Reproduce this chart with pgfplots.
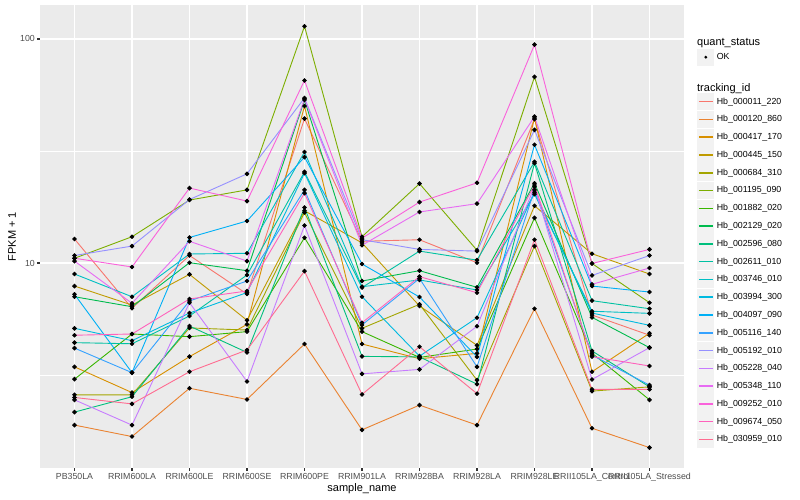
\documentclass[border=0pt]{standalone}
\usepackage{fontspec}
\setmainfont{Liberation Sans}
\usepackage{pgfplots}
\usepackage{pgfplotstable}
\pgfplotsset{compat=1.18}

\definecolor{panelbg}{HTML}{EBEBEB}
\definecolor{keybg}{HTML}{F2F2F2}
\definecolor{grey20}{HTML}{333333}
\definecolor{grey30}{HTML}{4D4D4D}
\definecolor{c1}{HTML}{F8766D}
\definecolor{c2}{HTML}{EA8331}
\definecolor{c3}{HTML}{D89000}
\definecolor{c4}{HTML}{C09B00}
\definecolor{c5}{HTML}{A3A500}
\definecolor{c6}{HTML}{7CAE00}
\definecolor{c7}{HTML}{39B600}
\definecolor{c8}{HTML}{00BB4E}
\definecolor{c9}{HTML}{00BF7D}
\definecolor{c10}{HTML}{00C1A3}
\definecolor{c11}{HTML}{00BFC4}
\definecolor{c12}{HTML}{00BAE0}
\definecolor{c13}{HTML}{00B0F6}
\definecolor{c14}{HTML}{35A2FF}
\definecolor{c15}{HTML}{9590FF}
\definecolor{c16}{HTML}{C77CFF}
\definecolor{c17}{HTML}{E76BF3}
\definecolor{c18}{HTML}{FA62DB}
\definecolor{c19}{HTML}{FF62BC}
\definecolor{c20}{HTML}{FF6C91}

% FPKM + 1 per sample (rows) and gene (columns)
\pgfplotstableread{
x  s1    s2   s3   s4   s5   s6    s7    s8    s9   s10  s11  s12  s13  s14  s15  s16  s17  s18  s19  s20
0  12.8  1.89 3.44 7.89 2.58 10.5  3.03  7.07  2.16 4.41 8.93 5.11 7.25 4.17 10.8 2.45 10.2 10.5 4.76 2.51
1  6.28  1.68 2.64 6.49 2.58 13.1  4.82  6.38  2.53 4.36 7.07 4.50 3.24 3.24 11.9 1.89 6.61 9.6  4.82 2.35
2  10.8  2.76 3.82 8.9  5.13 19.1  4.69  10.03 5.23 5.80 10.97 5.98 13.0 6.77 19.2 6.65 12.5 21.6 6.91 3.27
3  7.27  2.46 5.32 5.55 5.02 21.2  4.94  9.24  3.99 8.84 11.05 7.38 15.4 8.31 25.0 2.96 10.2 18.9 7.5  4.09
4  44.1  4.35 50.2 17.1 16.8 113.9 12.97 53.4  17.7 25.5 31.3 25.2 29.7 21.2 54.5 14.7 54.0 65.3 20.5 9.2
5  12.5  1.80 4.35 12.3 5.11 13.1  4.94  8.31  3.83 7.77 7.84 7.07 9.9  5.29 12.7 3.20 12.0 12.9 5.41 2.59
6  12.7  2.32 3.74 6.43 6.54 22.6  3.79  9.24  3.81 11.3 8.4  3.84 7.05 8.53 11.5 3.35 16.9 18.7 8.69 4.23
7  10.03 1.89 3.95 4.29 3.00 11.4  4.13  7.79  2.88 10.3 7.58 5.70 3.81 3.44 11.3 5.22 18.4 22.8 7.37 2.61
8  43.9  6.25 44.4 18.0 11.9 67.7  15.9  22.7  27.9 28.3 20.3 20.7 33.7 21.2 39.3 21.9 45.0 94.3 22.3 12.7
9  5.86  1.83 3.27 11.0 2.68 9.95  3.96  5.72  4.05 6.79 6.09 5.98 7.89 3.88 8.8  3.02 8.03 9.95 3.82 2.73
10 4.76  1.50 4.86 8.93 2.80 6.65  2.45  4.19  2.80 6.25 5.96 5.27 7.42 2.85 10.8 4.19 9.5  11.5 3.47 2.73
}\fpkm

\begin{document}
\begin{tikzpicture}
\useasboundingbox (-40pt,-32pt) rectangle (760pt,468pt);
\begin{axis}[
    at={(0pt,0pt)}, anchor=south west,
    scale only axis, width=644pt, height=463pt,
    xmin=-0.6, xmax=10.6,
    ymode=log, ymin=1.216, ymax=141.8,
    axis background/.style={fill=panelbg},
    axis line style={draw=none},
    xtick={0,...,10},
    xticklabels={PB350LA,RRIM600LA,RRIM600LE,RRIM600SE,RRIM600PE,RRIM901LA,RRIM928BA,RRIM928LA,RRIM928LE,RRII105LA\_Control,RRII105LA\_Stressed},
    ytick={10,100}, yticklabels={10,100},
    minor ytick={3.1623,31.623},
    xmajorgrids, ymajorgrids, yminorgrids,
    major grid style={white, line width=1.07pt},
    minor grid style={white, line width=0.53pt},
    tick align=outside, tick pos=left,
    major tick length=2.75pt, minor tick length=0pt,
    tick style={color=grey20, line width=1.07pt},
    ticklabel style={font=\fontsize{8.8}{10}\selectfont, text=grey30, inner sep=0pt},
    yticklabel style={anchor=east, xshift=-2.2pt},
    xticklabel style={anchor=north, yshift=-2.6pt},
    every axis x label/.style={at={(axis description cs:0.5,-0.0454)}, anchor=center},
    every axis y label/.style={at={(axis description cs:-0.0435,0.5)}, rotate=90, anchor=center},
    label style={font=\fontsize{11}{13}\selectfont},
    xlabel={sample\_name}, ylabel={FPKM + 1},
    legend style={at={(axis description cs:1,1)}, anchor=north west,
        xshift=13pt, yshift=-31pt, draw=none, fill=none, inner sep=0pt,
        row sep=0.5pt, column sep=2.4pt,
        font=\fontsize{8.8}{10}\selectfont,
        nodes={inner sep=0pt}},
    legend cell align=left,
    legend image code/.code={
        \fill[keybg, draw=none] (0pt,-8.64pt) rectangle (17.28pt,8.64pt);
        \draw[#1,mark=none,line width=1.6pt] (1.7pt,0pt) -- (15.6pt,0pt);
    },
    every axis plot/.append style={line width=0.9pt, no marks},
]
\addlegendimage{legend image code/.code={\path[draw=none,fill=none] (0pt,-5.9pt) rectangle (17.28pt,6pt);}}
\addlegendentry{\fontsize{11}{13}\selectfont\hspace*{-19.7pt}quant\_status}
\addlegendimage{legend image code/.code={
    \fill[keybg, draw=none] (0pt,-8.64pt) rectangle (17.28pt,8.64pt);
    \fill[black, draw=none] (8.64pt,0pt) circle (1.6pt);}}
\addlegendentry{OK}
\addlegendimage{legend image code/.code={\path[draw=none,fill=none] (0pt,-4.4pt) rectangle (17.28pt,21.4pt);}}
\addlegendentry{\fontsize{11}{13}\selectfont\hspace*{-19.7pt}tracking\_id}

\addplot[c1]  table[x=x,y=s1]  {\fpkm}; \addlegendentry{Hb\_000011\_220}
\addplot[c2]  table[x=x,y=s2]  {\fpkm}; \addlegendentry{Hb\_000120\_860}
\addplot[c3]  table[x=x,y=s3]  {\fpkm}; \addlegendentry{Hb\_000417\_170}
\addplot[c4]  table[x=x,y=s4]  {\fpkm}; \addlegendentry{Hb\_000445\_150}
\addplot[c5]  table[x=x,y=s5]  {\fpkm}; \addlegendentry{Hb\_000684\_310}
\addplot[c6]  table[x=x,y=s6]  {\fpkm}; \addlegendentry{Hb\_001195\_090}
\addplot[c7]  table[x=x,y=s7]  {\fpkm}; \addlegendentry{Hb\_001882\_020}
\addplot[c8]  table[x=x,y=s8]  {\fpkm}; \addlegendentry{Hb\_002129\_020}
\addplot[c9]  table[x=x,y=s9]  {\fpkm}; \addlegendentry{Hb\_002596\_080}
\addplot[c10] table[x=x,y=s10] {\fpkm}; \addlegendentry{Hb\_002611\_010}
\addplot[c11] table[x=x,y=s11] {\fpkm}; \addlegendentry{Hb\_003746\_010}
\addplot[c12] table[x=x,y=s12] {\fpkm}; \addlegendentry{Hb\_003994\_300}
\addplot[c13] table[x=x,y=s13] {\fpkm}; \addlegendentry{Hb\_004097\_090}
\addplot[c14] table[x=x,y=s14] {\fpkm}; \addlegendentry{Hb\_005116\_140}
\addplot[c15] table[x=x,y=s15] {\fpkm}; \addlegendentry{Hb\_005192\_010}
\addplot[c16] table[x=x,y=s16] {\fpkm}; \addlegendentry{Hb\_005228\_040}
\addplot[c17] table[x=x,y=s17] {\fpkm}; \addlegendentry{Hb\_005348\_110}
\addplot[c18] table[x=x,y=s18] {\fpkm}; \addlegendentry{Hb\_009252\_010}
\addplot[c19] table[x=x,y=s19] {\fpkm}; \addlegendentry{Hb\_009674\_050}
\addplot[c20] table[x=x,y=s20] {\fpkm}; \addlegendentry{Hb\_030959\_010}

% points on top of all lines
\pgfplotsinvokeforeach{1,...,20}{
    \addplot[only marks, mark=*, mark size=1.8pt, black, forget plot] table[x=x,y=s#1] {\fpkm};
}
\end{axis}
\end{tikzpicture}
\end{document}
